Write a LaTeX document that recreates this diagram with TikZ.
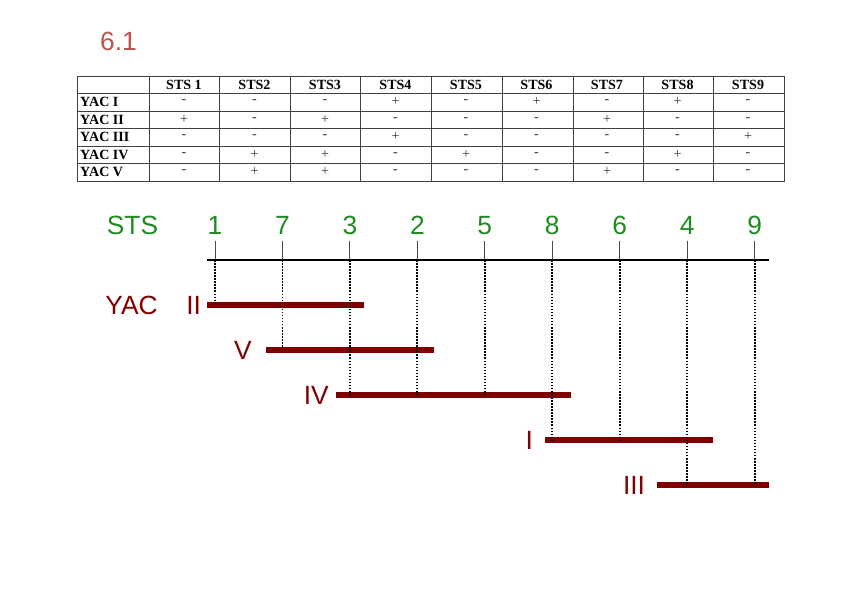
\documentclass[tikz,border=0pt]{standalone}
\usepackage{fontspec}
\setmainfont{Liberation Serif}
\setsansfont{Liberation Sans}
\usetikzlibrary{positioning}
\definecolor{ChapRed}{HTML}{C0504D}
\definecolor{StsGreen}{HTML}{1E8C1E}
\definecolor{YacRed}{HTML}{800000}
\definecolor{GridGray}{HTML}{404040}

\begin{document}
\begin{tikzpicture}[x=0.03cm, y=-0.03cm,
  big/.style={font=\sffamily\fontsize{22.5}{26}\selectfont, inner sep=0pt},
  stsnum/.style={big, text=StsGreen, anchor=base},
  yaclbl/.style={big, text=YacRed},
  cell/.style={font=\fontsize{12}{14}\selectfont, text=black!80, inner sep=0pt},
  head/.style={cell, text=black, font=\bfseries\fontsize{12}{14}\selectfont},
  grid/.style={GridGray, line width=0.8pt},
  bar/.style={YacRed, line width=5.5pt},
  dotline/.style={black, line width=1.6pt, dash pattern=on 1.3pt off 1.3pt}]
  \useasboundingbox (0,0) rectangle (848,599);
  \node[big, text=ChapRed] (title) at (118.5,41) {6.1};

  % table
  \draw[grid] (77,76) rectangle (784,181);
  \foreach \x in {149,219,290,360,431,502,573,643,713}
    \draw[grid] (\x,76) -- (\x,181);
  \foreach \y in {93.5,111,128.5,146,163.5}
    \draw[grid] (77,\y) -- (784,\y);
  \foreach \lbl [count=\j] in {STS 1,STS2,STS3,STS4,STS5,STS6,STS7,STS8,STS9}
    \node[head] (h\j) at ({184+70.5*(\j-1)},85) {\lbl};
  \foreach \ry/\rn/\vals [count=\i] in {
      102/YAC I/{-,-,-,+,-,+,-,+,-},
      119.5/YAC II/{+,-,+,-,-,-,+,-,-},
      137/YAC III/{-,-,-,+,-,-,-,-,+},
      154.5/YAC IV/{-,+,+,-,+,-,-,+,-},
      172/YAC V/{-,+,+,-,-,-,+,-,-}} {
    \node[head, anchor=west] (r\i) at (80,\ry) {\rn};
    \foreach \v [count=\j] in \vals
      \node[cell] (c\i-\j) at ({184+70.5*(\j-1)},\ry) {\v};
  }

  % STS axis
  \node[stsnum] (sts) at (132.5,235) {STS};
  \foreach \n [count=\i] in {1,7,3,2,5,8,6,4,9} {
    \node[stsnum] (n\n) at ({215+67.45*(\i-1)},235) {\n};
    \coordinate (t\n) at ({215+67.45*(\i-1)},260);
    \draw[gray!60!black, line width=0.8pt] ([yshift=-5pt]n\n.base) -- (t\n);
  }
  \coordinate (axL) at (207,260);
  \coordinate (axR) at (769,260);
  \draw[line width=2.3pt] (axL) -- (axR);

  % YAC bars
  \coordinate (bII) at (207,305);  \coordinate (eII) at (364,305);
  \coordinate (bV) at (266,350);   \coordinate (eV) at (434,350);
  \coordinate (bIV) at (336,395);  \coordinate (eIV) at (571,395);
  \coordinate (bI) at (545,440);   \coordinate (eI) at (713,440);
  \coordinate (bIII) at (657,485); \coordinate (eIII) at (769,485);
  \draw[bar] (bII) -- (eII);
  \draw[bar] (bV) -- (eV);
  \draw[bar] (bIV) -- (eIV);
  \draw[bar] (bI) -- (eI);
  \draw[bar] (bIII) -- (eIII);
  \node[yaclbl, left=5pt of bII] (lII) {II};
  \node[yaclbl, left=24pt of lII] (yac) {YAC};
  \node[yaclbl, left=12pt of bV] (lV) {V};
  \node[yaclbl, left=6pt of bIV] (lIV) {IV};
  \node[yaclbl, left=10pt of bI] (lI) {I};
  \node[yaclbl, left=10pt of bIII] (lIII) {III};

  % dotted drops
  \draw[dotline] (t1) -- (t1 |- bII);
  \draw[dotline] (t7) -- (t7 |- bV);
  \draw[dotline] (t3) -- (t3 |- bIV);
  \draw[dotline] (t2) -- (t2 |- bIV);
  \draw[dotline] (t5) -- (t5 |- bIV);
  \draw[dotline] (t8) -- (t8 |- bI);
  \draw[dotline] (t6) -- (t6 |- bI);
  \draw[dotline] (t4) -- (t4 |- bIII);
  \draw[dotline] (t9) -- (t9 |- bIII);
\end{tikzpicture}
\end{document}
